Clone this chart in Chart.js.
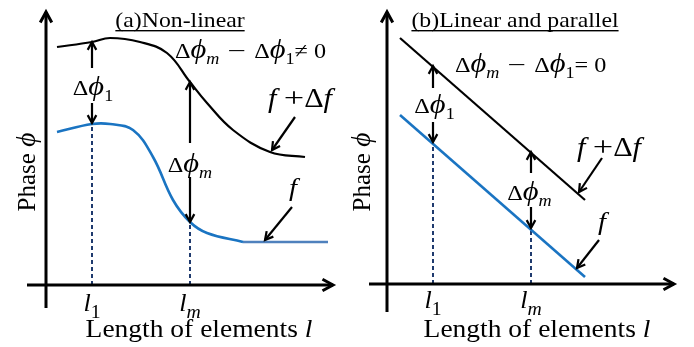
<!DOCTYPE html>
<html lang="en">
<head>
<meta charset="utf-8">
<title>Phase vs length of elements</title>
<script src="https://cdn.jsdelivr.net/npm/chart.js@4.4.1/dist/chart.umd.min.js"></script>
<style>
	html, body { margin: 0; padding: 0; background: #fff; }
	#wrap { display: flex; width: 694px; height: 347px; }
	canvas { display: block; }
</style>
</head>
<body>
<div id="wrap">
	<canvas id="chartA" width="347" height="347"></canvas>
	<canvas id="chartB" width="347" height="347"></canvas>
</div>
<script>
// element lengths where the phase difference is read
var l1 = 4.6
var lm = 14.4

// (a) non-linear: phase of f + delta f and of f
var aUpperX = [1.1, 4.6, 6.4, 9.4, 12.1, 14.4, 16.1, 18.7, 22.4, 25.9]
var aUpperY = [23.8, 24.3, 24.7, 24.3, 23.2, 20.3, 18.2, 15.5, 13.3, 12.8]
var aLowerX = [1.1, 4.6, 6.4, 8.7, 10.7, 12.7, 14.4, 16.1, 19.7]
var aLowerY = [15.3, 16.1, 16.1, 15.5, 12.8, 8.5, 6.3, 5.2, 4.3]
var aTailX = [19.7, 28.2]
var aTailY = [4.3, 4.3]
var aPhaseAtL = [16.1, 6.3]   // f at l1, lm

// (b) linear and parallel
var bUpperX = [1.3, 19.8]
var bUpperY = [24.6, 8.4]
var bLowerX = [1.3, 19.8]
var bLowerY = [16.9, 0.7]
var bPhaseAtL = [14.0, 5.4]

var FONT = '"Liberation Serif", "Times New Roman", serif'
var BLUE = '#1a74c2'
var NAVY = '#1f3a6e'

function pts(xs, ys) {
	var out = []
	for (var i = 0; i < xs.length; i++) out.push({ x: xs[i], y: ys[i] })
	return out
}

function line(data, color, width, tension, dash) {
	return {
		data: data, borderColor: color, borderWidth: width, tension: tension || 0,
		borderDash: dash || [], pointRadius: 0, fill: false, borderCapStyle: 'butt'
	}
}

// rich text: parts = [text, italic, subscript, sizeMult, stretch]
function partFont(p, size) {
	var s = size * (p[3] || 1) * (p[2] ? 0.75 : 1)
	return (p[1] ? 'italic ' : '') + s.toFixed(1) + 'px ' + FONT
}
function richWidth(ctx, parts, size) {
	var w = 0
	parts.forEach(function (p) {
		ctx.font = partFont(p, size)
		w += ctx.measureText(p[0]).width * (p[4] || 1)
	})
	return w
}
function drawRich(ctx, x, y, parts, size, align, sx) {
	sx = sx || 1
	var w = richWidth(ctx, parts, size) * sx
	var start = align === 'center' ? x - w / 2 : x
	ctx.save()
	ctx.translate(start, y)
	ctx.scale(sx, 1)
	ctx.textBaseline = 'alphabetic'
	ctx.textAlign = 'left'
	ctx.fillStyle = '#000'
	var cx = 0
	parts.forEach(function (p) {
		ctx.font = partFont(p, size)
		var ps = p[4] || 1
		ctx.save()
		ctx.translate(cx, p[2] ? size * 0.28 : 0)
		ctx.scale(ps, 1)
		ctx.fillText(p[0], 0, 0)
		ctx.restore()
		cx += ctx.measureText(p[0]).width * ps
	})
	ctx.restore()
	return w
}

function arrow(ctx, x0, y0, x1, y1, width, head) {
	var a = Math.atan2(y1 - y0, x1 - x0)
	ctx.save()
	ctx.strokeStyle = '#000'
	ctx.lineWidth = width
	ctx.lineCap = 'butt'
	ctx.beginPath()
	ctx.moveTo(x0, y0)
	ctx.lineTo(x1, y1)
	ctx.stroke()
	ctx.beginPath()
	ctx.moveTo(x1 - head * Math.cos(a - 0.5), y1 - head * Math.sin(a - 0.5))
	ctx.lineTo(x1, y1)
	ctx.lineTo(x1 - head * Math.cos(a + 0.5), y1 - head * Math.sin(a + 0.5))
	ctx.stroke()
	ctx.restore()
}

var phi = '\u03D5'
var phiPart = [phi, 1, 0, 1.2, 1.05]
var dPhi1 = [['\u0394'], phiPart, ['1', 0, 1]]
var dPhiM = [['\u0394'], phiPart, ['m', 1, 1]]
var minus = [' \u2212 ', 0, 0, 1, 1.35]
var fPlusDf = [['f', 1], ['\u2009+', 0, 0, 1, 1.2], ['\u0394'], ['f', 1]]

function annotPlugin(cfg) {
	return {
		id: 'annot',
		afterDatasetsDraw: function (chart) {
			var ctx = chart.ctx
			var X = function (v) { return chart.scales.x.getPixelForValue(v) }
			var Y = function (v) { return chart.scales.y.getPixelForValue(v) }
			// axes
			arrow(ctx, X(0), Y(cfg.yAxis[0]), X(0), Y(cfg.yAxis[1]), 3, 12)
			arrow(ctx, X(cfg.xAxis[0]), Y(0), X(cfg.xAxis[1]), Y(0), 3, 12)
			// delta arrows and small pointer arrows
			cfg.arrows.forEach(function (a) {
				arrow(ctx, X(a[0]), Y(a[1]), X(a[2]), Y(a[3]), 2.2, 9)
			})
			// texts
			cfg.texts.forEach(function (t) {
				drawRich(ctx, X(t.x), Y(t.y), t.parts, t.size, t.align, t.sx || 1.1)
			})
			// title, underlined
			var tw = drawRich(ctx, X(cfg.title.x), Y(cfg.title.y), cfg.title.parts, 22, 'center', 1.08)
			ctx.fillRect(X(cfg.title.x) - tw / 2, Y(cfg.title.y) + 3, tw, 1.4)
			// y axis title, rotated
			ctx.save()
			ctx.translate(X(cfg.yTitle[0]), Y(cfg.yTitle[1]))
			ctx.rotate(-Math.PI / 2)
			drawRich(ctx, 0, 0, [['Phase '], [phi, 1, 0, 1.1]], 25, 'center', 1)
			ctx.restore()
		}
	}
}

function makeChart(id, datasets, range, cfg) {
	return new Chart(document.getElementById(id), {
		type: 'line',
		data: { datasets: datasets },
		options: {
			responsive: false,
			animation: false,
			layout: { padding: 0 },
			plugins: { legend: { display: false }, tooltip: { enabled: false } },
			scales: {
				x: { type: 'linear', display: false, min: range[0], max: range[1] },
				y: { type: 'linear', display: false, min: range[2], max: range[3] }
			}
		},
		plugins: [annotPlugin(cfg)]
	})
}

function axisTexts(lY, labX, labY) {
	return [
		{ x: l1, y: lY, parts: [['l', 1], ['1', 0, 1]], size: 25, align: 'center', sx: 1.05 },
		{ x: lm, y: lY, parts: [['l', 1], ['m', 1, 1]], size: 25, align: 'center', sx: 1.05 },
		{ x: labX, y: labY, parts: [['Length of elements '], ['l', 1]], size: 25, align: 'center', sx: 1.1 }
	]
}

makeChart('chartA', [
	line(pts(aUpperX, aUpperY), '#000', 2.2, 0.4),
	line(pts(aLowerX, aLowerY), BLUE, 2.6, 0.4),
	line(pts(aTailX, aTailY), '#4f81bd', 2.6, 0),
	line(pts([l1, l1], [0, aPhaseAtL[0]]), NAVY, 2, 0, [4, 3]),
	line(pts([lm, lm], [0, aPhaseAtL[1]]), NAVY, 2, 0, [4, 3])
], [-4.6, 30.1, -6.2, 28.5], {
	xAxis: [-1.9, 28.7], yAxis: [-2.3, 27.3],
	arrows: [
		[l1, 21.7, l1, 24.3], [l1, 18.2, l1, 16.2],
		[lm, 14.2, lm, 20.3], [lm, 10.8, lm, 6.3],
		[24.9, 16.8, 22.6, 13.5], [24.6, 7.8, 21.9, 4.5]
	],
	texts: [
		{ x: 4.7, y: 19.0, parts: dPhi1, size: 22, align: 'center' },
		{ x: 14.4, y: 11.3, parts: dPhiM, size: 22, align: 'center' },
		{ x: 12.9, y: 22.7, parts: dPhiM.concat([minus, ['\u0394'], phiPart, ['1', 0, 1], ['\u2260 0']]), size: 22, align: 'left' },
		{ x: 22.2, y: 17.8, parts: fPlusDf, size: 27, align: 'left', sx: 1.12 },
		{ x: 24.7, y: 8.9, parts: [['f', 1]], size: 26, align: 'center' }
	].concat(axisTexts(-2.6, 15.3, -5.2)),
	title: { x: 13.4, y: 25.8, parts: [['(a)Non-linear']] },
	yTitle: [-1.1, 11.3]
})

makeChart('chartB', [
	line(pts(bUpperX, bUpperY), '#000', 2.2, 0),
	line(pts(bLowerX, bLowerY), BLUE, 2.6, 0),
	line(pts([l1, l1], [0, bPhaseAtL[0]]), NAVY, 2, 0, [4, 3]),
	line(pts([lm, lm], [0, bPhaseAtL[1]]), NAVY, 2, 0, [4, 3])
], [-4.0, 30.7, -6.3, 28.4], {
	xAxis: [-1.8, 28.7], yAxis: [-2.8, 27.2],
	arrows: [
		[l1, 19.6, l1, 21.8], [l1, 16.2, l1, 14.2],
		[lm, 11.1, lm, 13.2], [lm, 7.7, lm, 5.6],
		[21.5, 12.6, 19.2, 9.2], [21.2, 4.4, 19.0, 1.6]
	],
	texts: [
		{ x: 4.75, y: 17.1, parts: dPhi1, size: 22, align: 'center' },
		{ x: 14.25, y: 8.4, parts: dPhiM, size: 22, align: 'center' },
		{ x: 6.8, y: 21.2, parts: dPhiM.concat([minus, ['\u0394'], phiPart, ['1', 0, 1], ['= 0']]), size: 22, align: 'left' },
		{ x: 19.0, y: 12.8, parts: fPlusDf, size: 27, align: 'left', sx: 1.12 },
		{ x: 21.5, y: 5.4, parts: [['f', 1]], size: 26, align: 'center' }
	].concat(axisTexts(-2.4, 15.0, -5.3)),
	title: { x: 12.8, y: 25.7, parts: [['(b)Linear and parallel']] },
	yTitle: [-1.7, 11.2]
})
</script>
</body>
</html>
